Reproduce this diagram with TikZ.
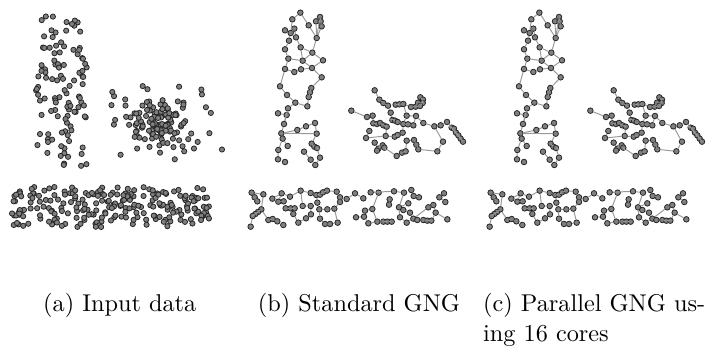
\documentclass[tikz,border=0pt]{standalone}
\usetikzlibrary{calc}
\tikzset{
  gn/.style={circle, draw=black!85, fill=black!50, line width=0.33pt, inner sep=0pt, minimum size=2.3pt},
  ge/.style={draw=black!40, line width=0.4pt},
  pa/.style={draw=black!85, fill=black!50, line width=0.33pt},
  captext/.style={inner sep=0pt, anchor=base west, font=\normalsize}
}
\newcommand\gngraph[1]{%
  \foreach \n/\x/\y in {u1/181/38, u2/157/58, u3/206/76, u4/240/51, u5/228/64, u6/242/64, u7/245/79, u8/230/114, u9/135/91, u10/152/99, u11/163/86, u12/168/112, u13/147/122, u14/182/142, u15/135/148, u16/217/158, u17/145/176, u18/188/182, u19/249/181, u20/216/204, u21/135/207, u22/163/216, u23/183/208, u24/245/232, u25/120/259, u26/214/264, u27/210/277, u28/206/291, u29/141/285, u30/166/308, u31/202/319, u32/144/325, u33/114/340, u34/140/345, u35/132/372, u36/172/390, u37/198/379, u38/225/369, u39/124/400, u40/230/401, u41/128/416, u42/143/438, u43/115/450, u44/215/431, u45/223/440, u46/231/444, u47/192/455, u48/240/473, u49/114/478, u50/135/486, u51/212/479, u52/226/495,
    r1/404/271, r2/418/299, r3/430/309, r4/444/317, r5/467/314, r6/478/313, r7/490/312, r8/513/321, r9/527/320, r10/541/292, r11/549/299, r12/534/308, r13/548/309, r14/540/318, r15/334/332, r16/381/351, r17/398/347, r18/452/338, r19/500/347, r20/528/348, r21/400/370, r22/411/372, r23/420/369, r24/430/376, r25/440/380, r26/457/360, r27/465/362, r28/473/366, r29/490/372, r30/504/373, r31/520/376, r32/550/369, r33/583/379, r34/602/376, r35/621/366, r36/635/383, r37/642/386, r38/648/398, r39/655/406, r40/662/416, r41/669/425, r42/609/425, r43/592/454, r44/388/393, r45/437/408, r46/464/410, r47/473/405, r48/488/398, r49/378/414, r50/404/428, r51/415/446, r52/428/436, r53/433/443, r54/411/452, r55/470/468, r56/486/458, r57/497/454, r58/500/422, r59/522/420, r60/529/434, r61/535/448,
    d1/35/578, d2/44/592, d3/52/604, d4/70/583, d5/64/628, d6/54/636, d7/46/642, d8/38/648, d9/32/680, d10/97/596, d11/85/660, d12/98/657, d13/112/664, d14/130/675, d15/125/580, d16/115/605, d17/131/604, d18/150/590, d19/137/625, d20/152/625, d21/164/625, d22/182/572, d23/188/618, d24/212/618, d25/160/642, d26/175/668, d27/198/655, d28/213/643, d29/212/579, d30/229/585, d31/240/584, d32/249/577, d33/261/572, d34/232/608, d35/238/628, d36/262/628, d37/283/626, d38/240/656, d39/255/672, d40/270/672, d41/293/668, d42/290/575, d43/300/592, d44/300/606, d45/320/597, d46/345/580, d47/370/595, d48/392/577, d49/416/578, d50/397/627, d51/375/632, d52/348/652, d53/372/650, d54/385/670, d55/412/665, d56/430/665, d57/442/665, d58/455/665, d59/449/598, d60/447/614, d61/462/574, d62/492/578, d63/514/570, d64/521/588, d65/537/592, d66/477/622, d67/505/610, d68/490/630, d69/480/652, d70/510/638, d71/500/668, d72/520/656, d73/532/660, d74/550/660, d75/562/662, d76/574/662, d77/565/622, d78/580/615, d79/587/638, d80/598/592, d81/612/580, d82/616/606, d83/622/658}
    {\node[gn] (#1\n) at (\x,\y) {};}
  \foreach \a/\b in {u1/u2, u1/u3, u3/u8, u4/u5, u4/u6, u4/u8, u5/u8, u6/u7, u7/u8, u2/u10, u9/u10, u10/u11, u11/u12, u10/u13, u12/u14, u13/u15, u14/u16, u16/u8, u14/u18, u16/u18, u16/u19, u18/u20, u19/u20, u15/u17, u17/u18, u17/u21, u21/u22, u22/u23, u23/u20, u20/u24, u21/u25, u25/u29, u29/u30, u30/u31, u31/u28, u28/u27, u27/u26, u26/u24, u32/u30, u32/u35, u33/u34, u34/u35, u35/u39, u39/u40, u39/u36, u36/u37, u37/u38, u38/u40, u39/u41, u41/u42, u41/u43, u43/u49, u44/u45, u44/u40, u47/u51, u51/u52, u52/u48, u48/u46, u46/u45,
    r1/r2, r2/r3, r3/r4, r4/r18, r5/r6, r6/r7, r7/r8, r7/r19, r8/r9, r9/r12, r10/r11, r11/r13, r12/r13, r13/r14, r9/r14, r15/r16, r16/r17, r17/r21, r21/r22, r22/r23, r23/r24, r24/r25, r18/r26, r26/r27, r27/r28, r28/r29, r29/r30, r19/r29, r30/r31, r20/r31, r20/r19, r20/r32, r32/r33, r33/r34, r34/r35, r35/r36, r36/r37, r37/r38, r38/r39, r39/r40, r40/r41, r35/r41, r33/r42, r42/r43, r43/r61, r61/r60, r60/r59, r59/r58, r58/r57, r57/r56, r56/r55, r55/r53, r53/r52, r52/r51, r51/r54, r50/r51, r49/r45, r44/r49, r45/r46, r46/r47, r47/r48, r48/r29, r25/r45,
    d1/d2, d2/d3, d1/d4, d4/d5, d5/d6, d6/d7, d7/d8, d8/d9, d5/d11, d11/d12, d12/d13, d10/d15, d15/d16, d16/d17, d15/d18, d18/d22, d22/d29, d29/d30, d30/d31, d31/d32, d32/d33, d33/d42, d42/d43, d43/d44, d44/d37, d19/d20, d20/d21, d21/d25, d25/d26, d26/d27, d27/d28, d28/d24, d24/d23, d23/d22, d30/d34, d34/d35, d35/d38, d38/d39, d39/d40, d40/d41, d41/d37, d36/d35, d43/d45, d45/d46, d46/d47, d48/d49, d49/d50, d50/d51, d51/d53, d53/d52, d53/d54, d54/d55, d50/d55, d55/d56, d56/d57, d57/d58, d59/d60, d61/d62, d62/d66, d66/d69, d63/d64, d64/d65, d66/d67, d68/d70, d70/d72, d72/d71, d71/d69, d73/d74, d74/d75, d75/d76, d76/d79, d79/d78, d78/d77, d80/d81, d80/d82, d79/d83, d72/d77, d48/d61}
    {\draw[ge] (#1\a) -- (#1\b);}
}
\begin{document}
\begin{tikzpicture}[x=0.412pt, y=-0.412pt]
\useasboundingbox (0,0) rectangle (711,347);
% (a) input data
\pgfmathsetseed{4217}
\foreach \i in {1,...,108}{%
  \pgfmathsetmacro\xx{36+51*rnd}\pgfmathsetmacro\yy{13+154*rnd}%
  \filldraw[pa] (\xx,\yy) circle[radius=2.6];}
\foreach \i in {1,...,95}{%
  \pgfmathsetmacro\xx{155+24*(rnd+rnd+rnd+rnd-2)}\pgfmathsetmacro\yy{123+19*(rnd+rnd+rnd+rnd-2)}%
  \filldraw[pa] (\xx,\yy) circle[radius=2.6];}
\foreach \i in {1,...,35}{%
  \pgfmathsetmacro\xx{110+115*rnd}\pgfmathsetmacro\yy{86+74*rnd}%
  \filldraw[pa] (\xx,\yy) circle[radius=2.6];}
\foreach \i in {1,...,225}{%
  \pgfmathsetmacro\xx{12+199*rnd}\pgfmathsetmacro\yy{187+40*rnd}%
  \filldraw[pa] (\xx,\yy) circle[radius=2.6];}
% (b) standard GNG
\begin{scope}[shift={(240,0)}, scale=1/3]
  \gngraph{b}
\end{scope}
% (c) parallel GNG
\begin{scope}[shift={(479,0)}, scale=1/3]
  \gngraph{c}
\end{scope}
% captions
\node[captext] (capa) at (42.7,311.7) {(a) Input data};
\node[captext] (capb) at (257.5,311.7) {(b) Standard GNG};
\node[captext] (capc) at (482.7,311.7) {(c) Parallel GNG us-};
\node[captext] (capc2) at (482.7,341) {ing 16 cores};
\end{tikzpicture}
\end{document}
